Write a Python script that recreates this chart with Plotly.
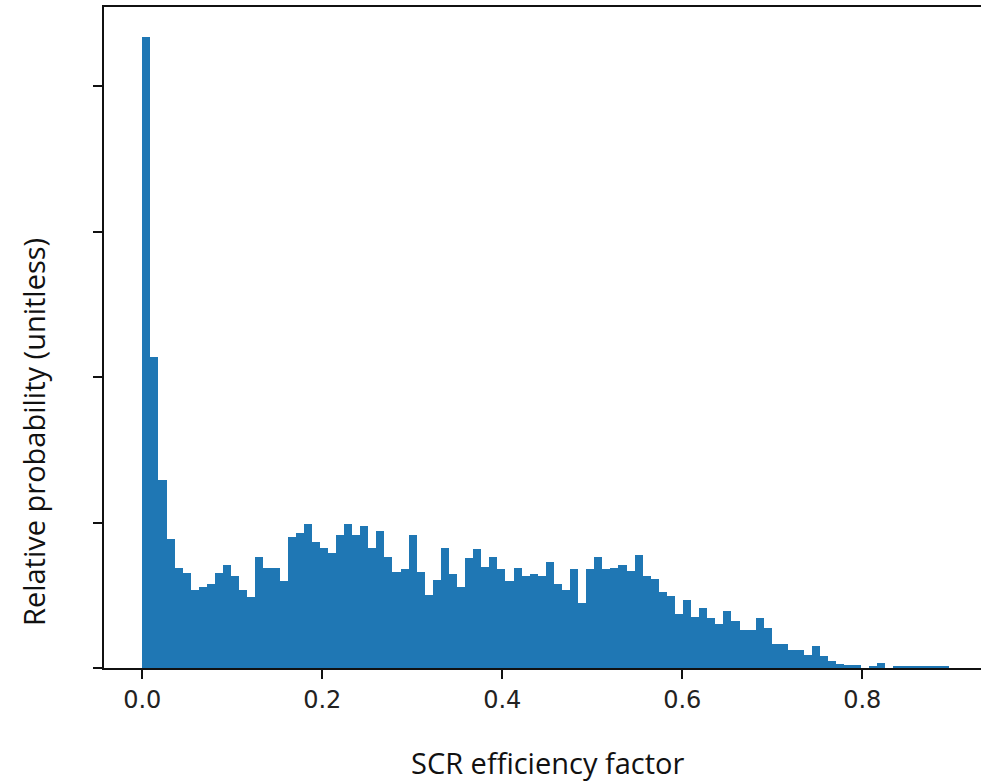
import plotly.graph_objects as go

# Histogram of SCR efficiency factor (density per bin)
bin_start = 0.0
bin_end = 0.8967
density = [
    8.68, 4.27, 2.59, 1.78, 1.37, 1.31, 1.07, 1.11, 1.16, 1.31,
    1.41, 1.26, 1.07, 0.97, 1.53, 1.37, 1.38, 1.19, 1.80, 1.85,
    1.98, 1.73, 1.65, 1.58, 1.83, 1.98, 1.83, 1.95, 1.65, 1.88,
    1.53, 1.32, 1.36, 1.83, 1.32, 1.01, 1.21, 1.65, 1.29, 1.12,
    1.51, 1.63, 1.39, 1.53, 1.36, 1.19, 1.38, 1.26, 1.29, 1.26,
    1.46, 1.16, 1.07, 1.36, 0.90, 1.36, 1.53, 1.36, 1.38, 1.41,
    1.33, 1.55, 1.26, 1.23, 1.04, 0.99, 0.74, 0.93, 0.70, 0.83,
    0.69, 0.60, 0.79, 0.65, 0.52, 0.52, 0.69, 0.55, 0.33, 0.33,
    0.25, 0.25, 0.18, 0.30, 0.16, 0.10, 0.05, 0.035, 0.035, 0.0,
    0.03, 0.065, 0.0, 0.03, 0.03, 0.03, 0.03, 0.03, 0.03, 0.03,
]
x_ticks = [0.0, 0.2, 0.4, 0.6, 0.8]
x_tick_labels = ["0.0", "0.2", "0.4", "0.6", "0.8"]
y_ticks = [0, 2, 4, 6, 8]
x_title = "SCR efficiency factor"
y_title = "Relative probability (unitless)"

n = len(density)
w = (bin_end - bin_start) / n
centers = [bin_start + (i + 0.5) * w for i in range(n)]

W, H = 981, 783
L, R, T, B = 104, 0, 7, 115
pw, ph = W - L - R, H - T - B
px_per_unit = 900.0
x0_px = 142.3
xr = [(L - x0_px) / px_per_unit, (W - R - x0_px) / px_per_unit]
yr = [0, 9.086]

fig = go.Figure()
fig.add_trace(go.Bar(
    x=centers, y=density, width=[w] * n,
    marker=dict(color="#1f77b4", line=dict(width=0)),
    hoverinfo="skip",
))

fig.update_layout(
    width=W, height=H,
    margin=dict(l=L, r=R, t=T, b=B, pad=0),
    paper_bgcolor="white", plot_bgcolor="white",
    showlegend=False, bargap=0,
    font=dict(family="DejaVu Sans", color="#222"),
)
fig.update_xaxes(
    range=xr, tickvals=x_ticks, ticktext=x_tick_labels,
    showgrid=False, zeroline=False,
    showline=True, linecolor="#111", linewidth=2, mirror=True,
    ticks="outside", ticklen=9, tickwidth=2, tickcolor="#111",
    tickfont=dict(size=24, family="DejaVu Sans", color="#222"),
)
fig.update_yaxes(
    range=yr, tickvals=y_ticks, showticklabels=False,
    showgrid=False, zeroline=False,
    showline=True, linecolor="#111", linewidth=2,
    ticks="outside", ticklen=9, tickwidth=2, tickcolor="#111",
)

def px_to_paper(xp, yp):
    return (xp - L) / pw, (H - B - yp) / ph

ax, ay = px_to_paper(33, 432)
fig.add_annotation(text=y_title, x=ax, y=ay, xref="paper", yref="paper",
                   textangle=-90, showarrow=False, xanchor="center", yanchor="middle",
                   font=dict(family="Open Sans", size=29, color="#111"))
bx, by = px_to_paper(547, 762)
fig.add_annotation(text=x_title, x=bx, y=by, xref="paper", yref="paper",
                   showarrow=False, xanchor="center", yanchor="middle",
                   font=dict(family="Open Sans", size=29, color="#111"))

fig.write_html("out.html")
